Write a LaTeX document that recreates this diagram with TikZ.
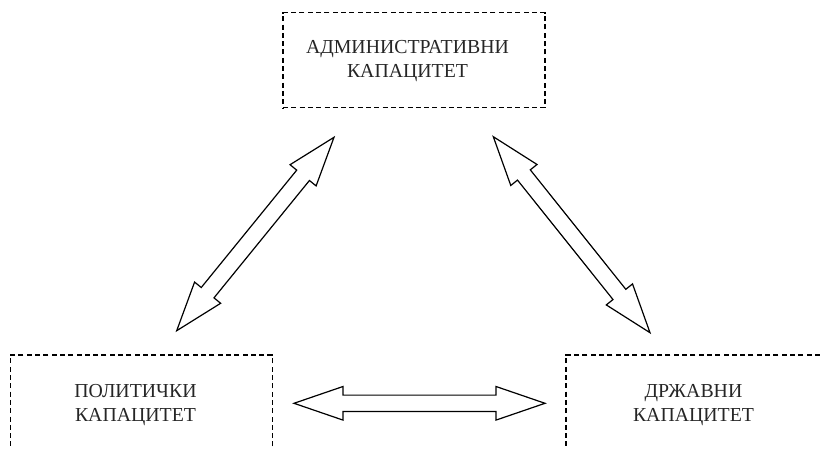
\documentclass[tikz,border=0pt]{standalone}
\usepackage{fontspec}
\setmainfont{Liberation Serif}
\usetikzlibrary{calc}
\newcommand\dblarrow[2]{%
 \coordinate (#1h) at ($(#1)!49bp!(#2)$);
 \coordinate (#2h) at ($(#2)!49bp!(#1)$);
 \draw[darrow] (#1)
 -- ($(#1h)!16.8bp!90:(#2)$)
 -- ($(#1h)!8.2bp!90:(#2)$)
 -- ($(#2h)!8.2bp!-90:(#1)$)
 -- ($(#2h)!16.8bp!-90:(#1)$)
 -- (#2)
 -- ($(#2h)!16.8bp!90:(#1)$)
 -- ($(#2h)!8.2bp!90:(#1)$)
 -- ($(#1h)!8.2bp!-90:(#2)$)
 -- ($(#1h)!16.8bp!-90:(#2)$)
 -- cycle;}
\begin{document}
\begin{tikzpicture}[x=1bp,y=-1bp,
 dbox/.style={draw, dash pattern=on 5bp off 3.3bp, line width=1.2bp, minimum width=262bp, minimum height=95bp, inner sep=0pt},
 lbl/.style={align=center, font=\fontsize{19.8bp}{24bp}\selectfont, inner sep=0pt, text=black!85},
 darrow/.style={draw, line width=1.2bp, line join=miter, fill=white}]
\clip (0,0) rectangle (822,449);
\fill[white] (0,0) rectangle (822,449);
\node[dbox] (adm) at (414,60.3) {};
\node[lbl] (admt) at (407.5,61) {АДМИНИСТРАТИВНИ\\КАПАЦИТЕТ};
\node[dbox] (pol) at (141.3,402.5) {};
\node[lbl] (polt) at (135.5,405) {ПОЛИТИЧКИ\\КАПАЦИТЕТ};
\node[dbox] (drz) at (697,402.5) {};
\node[lbl] (drzt) at (693.5,405) {ДРЖАВНИ\\КАПАЦИТЕТ};
\coordinate (L1) at (176.7,330.7);
\coordinate (L2) at (334,137.3);
\coordinate (R1) at (493.3,136.7);
\coordinate (R2) at (650,332.7);
\coordinate (H1) at (294,403.3);
\coordinate (H2) at (545,403.3);
\dblarrow{L1}{L2}
\dblarrow{R1}{R2}
\dblarrow{H1}{H2}
\end{tikzpicture}
\end{document}
